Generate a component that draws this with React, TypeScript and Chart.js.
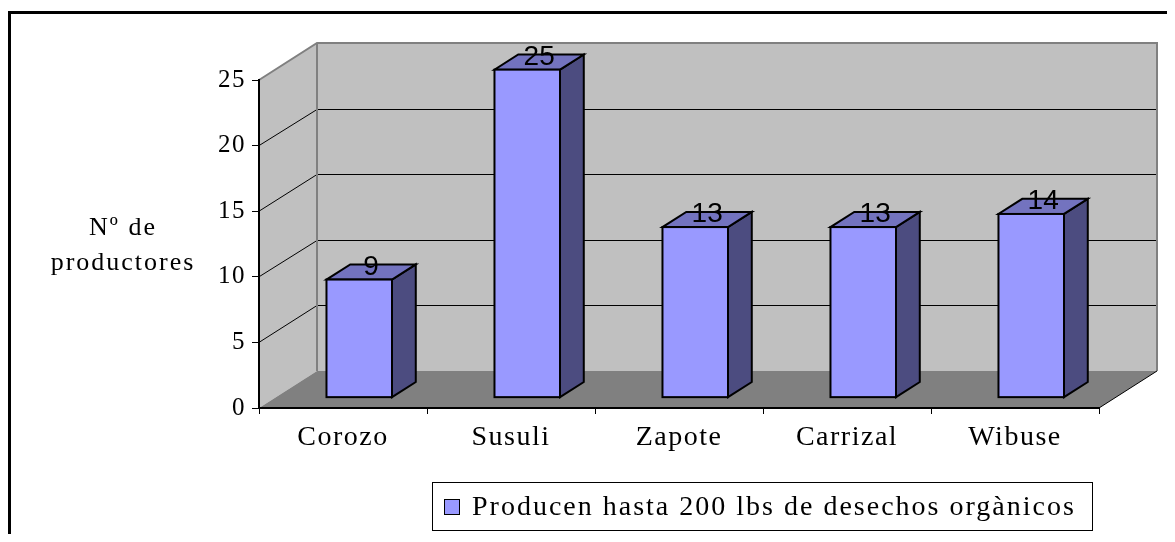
import React, { useEffect, useRef } from 'react';
import { Chart, registerables } from 'chart.js';

Chart.register(...registerables);

const categories = ['Corozo', 'Susuli', 'Zapote', 'Carrizal', 'Wibuse'];
const seriesLabel = 'Producen hasta 200 lbs de desechos orgànicos';
const values = [9, 25, 13, 13, 14];
const yTicks = [0, 5, 10, 15, 20, 25];
const yTitleLines = ['Nº de', 'productores'];

// styling / geometry (not data)
const W = 1159;
const H = 526;
const DEPTH_X = 58;
const DEPTH_Y = 37;
const FRONT_FRAC = 0.28;
const BACK_FRAC = 0.69;
const FRONT_COLOR = '#9999ff';
const TOP_COLOR = '#7373bf';
const SIDE_COLOR = '#4c4c80';
const WALL_COLOR = '#c0c0c0';
const FLOOR_COLOR = '#808080';
const EDGE_COLOR = '#808080';
const SERIF = '"Liberation Serif", "Times New Roman", serif';
const SANS = '"Liberation Sans", Arial, sans-serif';

function poly(ctx: CanvasRenderingContext2D, pts: number[][], fill: string) {
  ctx.beginPath();
  ctx.moveTo(pts[0][0], pts[0][1]);
  for (let i = 1; i < pts.length; i++) ctx.lineTo(pts[i][0], pts[i][1]);
  ctx.closePath();
  ctx.fillStyle = fill;
  ctx.fill();
}

const threeD = {
  id: 'threeD',
  beforeDraw(chart: any) {
    const { ctx, chartArea: a, scales } = chart;
    const ys = scales.y;
    const maxV = yTicks[yTicks.length - 1];
    ctx.save();
    ctx.letterSpacing = '0px';
    // outer frame
    ctx.strokeStyle = '#000';
    ctx.lineWidth = 3;
    ctx.beginPath();
    ctx.moveTo(1.5, chart.height + 5);
    ctx.lineTo(1.5, 4.5);
    ctx.lineTo(chart.width + 5, 4.5);
    ctx.stroke();

    const L = a.left;
    const R = a.right;
    const T = ys.getPixelForValue(maxV);
    const B = ys.getPixelForValue(0);
    const dx = DEPTH_X;
    const dy = DEPTH_Y;
    // side wall
    poly(ctx, [[L, B], [L, T], [L + dx, T - dy], [L + dx, B - dy]], WALL_COLOR);
    // back wall
    poly(ctx, [[L + dx, T - dy], [R + dx, T - dy], [R + dx, B - dy], [L + dx, B - dy]], WALL_COLOR);
    // floor
    poly(ctx, [[L, B], [R, B], [R + dx, B - dy], [L + dx, B - dy]], FLOOR_COLOR);

    // gridlines
    ctx.strokeStyle = '#000';
    ctx.lineWidth = 1;
    yTicks.forEach((v) => {
      if (v <= 0 || v >= maxV) return;
      const py = ys.getPixelForValue(v);
      const by = Math.round(py - dy) + 0.5;
      ctx.beginPath();
      ctx.moveTo(L, py);
      ctx.lineTo(L + dx, by);
      ctx.lineTo(R + dx, by);
      ctx.stroke();
    });

    // wall edges
    ctx.strokeStyle = EDGE_COLOR;
    ctx.lineWidth = 2;
    ctx.beginPath();
    ctx.moveTo(L, T);
    ctx.lineTo(L + dx, T - dy);
    ctx.lineTo(R + dx, T - dy);
    ctx.lineTo(R + dx, B - dy);
    ctx.moveTo(L + dx, T - dy);
    ctx.lineTo(L + dx, B - dy);
    ctx.stroke();

    // floor right edge
    ctx.strokeStyle = '#000';
    ctx.lineWidth = 1;
    ctx.beginPath();
    ctx.moveTo(R, B);
    ctx.lineTo(R + dx, B - dy);
    ctx.stroke();
    ctx.restore();
    ctx.letterSpacing = '1.5px';
  },
  beforeDatasetDraw() {
    return false;
  },
  afterDatasetsDraw(chart: any) {
    const { ctx } = chart;
    const meta = chart.getDatasetMeta(0);
    const ds = chart.data.datasets[0];
    const fx = FRONT_FRAC * DEPTH_X;
    const fy = -FRONT_FRAC * DEPTH_Y;
    const bdx = (BACK_FRAC - FRONT_FRAC) * DEPTH_X;
    const bdy = -(BACK_FRAC - FRONT_FRAC) * DEPTH_Y;
    ctx.save();
    ctx.letterSpacing = '0px';
    ctx.lineJoin = 'miter';
    meta.data.forEach((el: any, i: number) => {
      const { x, y, base, width } = el.getProps(['x', 'y', 'base', 'width'], true);
      const x0 = x - width / 2 + fx;
      const x1 = x + width / 2 + fx;
      const y0 = y + fy;
      const y1 = base + fy;
      ctx.strokeStyle = '#000';
      ctx.lineWidth = 2;
      // side
      const side = [[x1, y1], [x1, y0], [x1 + bdx, y0 + bdy], [x1 + bdx, y1 + bdy]];
      poly(ctx, side, SIDE_COLOR);
      ctx.stroke();
      // top
      const top = [[x0, y0], [x1, y0], [x1 + bdx, y0 + bdy], [x0 + bdx, y0 + bdy]];
      poly(ctx, top, TOP_COLOR);
      ctx.stroke();
      // front
      ctx.fillStyle = ds.backgroundColor;
      ctx.fillRect(x0, y0, x1 - x0, y1 - y0);
      ctx.strokeRect(x0, y0, x1 - x0, y1 - y0);
    });
    // value labels
    ctx.font = `28px ${SANS}`;
    ctx.fillStyle = '#000';
    ctx.textAlign = 'center';
    ctx.textBaseline = 'alphabetic';
    meta.data.forEach((el: any, i: number) => {
      const { x, y } = el.getProps(['x', 'y'], true);
      ctx.fillText(String(ds.data[i]), x + fx + bdx / 2, y + fy - 5);
    });
    ctx.restore();
  },
  afterDraw(chart: any) {
    const { ctx } = chart;
    const ds = chart.data.datasets[0];
    ctx.save();
    // y title
    ctx.letterSpacing = '2px';
    ctx.font = `26px ${SERIF}`;
    ctx.fillStyle = '#000';
    ctx.textAlign = 'center';
    ctx.textBaseline = 'alphabetic';
    ctx.fillText(yTitleLines[0], 115, 227);
    ctx.fillText(yTitleLines[1], 115, 262);
    // legend
    ctx.strokeStyle = '#000';
    ctx.lineWidth = 1;
    ctx.strokeRect(424.5, 474.5, 660, 48);
    ctx.fillStyle = ds.backgroundColor;
    ctx.fillRect(436.5, 491.5, 15, 15);
    ctx.strokeRect(436.5, 491.5, 15, 15);
    ctx.fillStyle = '#000';
    ctx.textAlign = 'left';
    ctx.font = `28px ${SERIF}`;
    ctx.fillText(ds.label, 464, 507);
    ctx.restore();
  },
};

export default function App() {
  const ref = useRef<HTMLCanvasElement | null>(null);
  useEffect(() => {
    if (!ref.current) return;
    const chart = new Chart(ref.current, {
      type: 'bar',
      data: {
        labels: categories,
        datasets: [
          {
            label: seriesLabel,
            data: values,
            backgroundColor: FRONT_COLOR,
            borderColor: '#000',
            borderWidth: 2,
            categoryPercentage: 1,
            barPercentage: 0.39,
          },
        ],
      },
      options: {
        animation: false,
        responsive: false,
        devicePixelRatio: 1,
        layout: { padding: { top: 72, right: 68, left: 0, bottom: 0 } },
        plugins: {
          legend: { display: false },
          tooltip: { enabled: false },
        },
        scales: {
          x: {
            offset: true,
            grid: {
              offset: true,
              drawOnChartArea: false,
              drawTicks: true,
              tickLength: 6,
              color: '#000',
              lineWidth: 1,
            },
            border: { display: true, color: '#000', width: 2 },
            ticks: {
              color: '#000',
              font: { family: SERIF, size: 28 },
              padding: 7,
              maxRotation: 0,
              autoSkip: false,
            },
            afterFit(s: any) {
              s.height = 126;
            },
          },
          y: {
            min: yTicks[0],
            max: yTicks[yTicks.length - 1],
            ticks: {
              stepSize: 5,
              color: '#000',
              font: { family: SERIF, size: 25 },
              padding: 6,
            },
            grid: {
              drawOnChartArea: false,
              drawTicks: true,
              tickLength: 7,
              color: '#000',
              lineWidth: 1,
            },
            border: { display: true, color: '#000', width: 2 },
            afterFit(s: any) {
              s.width = 251;
            },
          },
        },
      },
      plugins: [threeD],
    } as any);
    return () => chart.destroy();
  }, []);
  return (
    <div style={{ width: W, height: H }}>
      <canvas ref={ref} width={W} height={H} style={{ display: 'block' }} />
    </div>
  );
}
